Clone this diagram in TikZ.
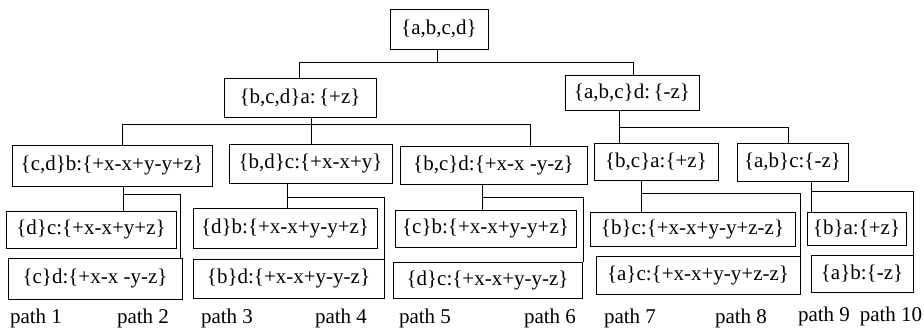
\documentclass[tikz,border=0pt]{standalone}
\usepackage{fontspec}
\setmainfont{Liberation Serif}
\begin{document}
\begin{tikzpicture}[x=1pt,y=-1pt,
  every node/.style={font=\fontsize{21pt}{24pt}\selectfont},
  box/.style={draw, line width=0.8pt, inner sep=0pt},
  conn/.style={line width=0.8pt},
  lbl/.style={anchor=base, inner sep=0pt}]
\useasboundingbox (0,0) rectangle (924,331);
% level 0 / 1
\node[box, minimum width=98pt, minimum height=40pt] (root) at (439,29) {\{a,b,c,d\}};
\node[box, minimum width=152pt, minimum height=39pt] (l1a) at (300,97.5) {\{b,c,d\}a:\,\{+z\}};
\node[box, minimum width=134pt, minimum height=35pt] (l1b) at (632,92.5) {\{a,b,c\}d:\,\{-z\}};
% level 2
\node[box, minimum width=200pt, minimum height=41pt] (l2a) at (112,165.5) {\{c,d\}b:\{+x-x+y-y+z\}};
\node[box, minimum width=163pt, minimum height=39pt] (l2b) at (310.5,163.5) {\{b,d\}c:\{+x-x+y\}};
\node[box, minimum width=187pt, minimum height=38pt] (l2c) at (493.5,165) {\{b,c\}d:\{+x-x -y-z\}};
\node[box, minimum width=124pt, minimum height=37pt] (l2d) at (656,161.5) {\{b,c\}a:\{+z\}};
\node[box, minimum width=111pt, minimum height=38pt] (l2e) at (792.5,162) {\{a,b\}c:\{-z\}};
% level 3
\node[box, minimum width=170pt, minimum height=37pt] (p1) at (91,229.5) {\{d\}c:\{+x-x+y+z\}};
\node[box, minimum width=174pt, minimum height=41pt] (p2) at (95,278.5) {\{c\}d:\{+x-x -y-z\}};
\node[box, minimum width=184pt, minimum height=40pt] (p3) at (285,228) {\{d\}b:\{+x-x+y-y+z\}};
\node[box, minimum width=191pt, minimum height=39pt] (p4) at (288.5,278.5) {\{b\}d:\{+x-x+y-y-z\}};
\node[box, minimum width=181pt, minimum height=37pt] (p5) at (485.5,228.5) {\{c\}b:\{+x-x+y-y+z\}};
\node[box, minimum width=189pt, minimum height=36pt] (p6) at (487.5,280) {\{d\}c:\{+x-x+y-y-z\}};
\node[box, minimum width=205pt, minimum height=34pt] (p7) at (692.5,229) {\{b\}c:\{+x-x+y-y+z-z\}};
\node[box, minimum width=204pt, minimum height=38pt] (p8) at (698,275) {\{a\}c:\{+x-x+y-y+z-z\}};
\node[box, minimum width=99pt, minimum height=33pt] (p9) at (856.5,228.5) {\{b\}a:\{+z\}};
\node[box, minimum width=102pt, minimum height=37pt] (p10) at (862,273.5) {\{a\}b:\{-z\}};
% junction coordinates
\coordinate (k0) at (437,62);
\coordinate (k0a) at (299,62);
\coordinate (k0b) at (633,62);
\coordinate (k1) at (311,124);
\coordinate (k1a) at (122,124);
\coordinate (k1c) at (530,124);
\coordinate (k2) at (619,127);
\coordinate (k2e) at (788,127);
\coordinate (k3) at (123,194);
\coordinate (k3b) at (180,194);
\coordinate (k4) at (287,197);
\coordinate (k4b) at (384,197);
\coordinate (k5) at (482,197);
\coordinate (k5b) at (583,197);
\coordinate (k6) at (641,193);
\coordinate (k6b) at (800,193);
\coordinate (k7) at (811,191);
\coordinate (k7b) at (913,191);
% connectors
\draw[conn] (k0 |- root.south) -- (k0);
\draw[conn] (k0a |- l1a.north) -- (k0a) -- (k0b) -- (k0b |- l1b.north);
\draw[conn] (k1 |- l1a.south) -- (k1 |- l2b.north);
\draw[conn] (k1a |- l2a.north) -- (k1a) -- (k1c) -- (k1c |- l2c.north);
\draw[conn] (k2 |- l1b.south) -- (k2 |- l2d.north);
\draw[conn] (k2) -- (k2e) -- (k2e |- l2e.north);
\draw[conn] (k3 |- l2a.south) -- (k3 |- p1.north);
\draw[conn] (k3) -- (k3b) -- (k3b |- p2.north);
\draw[conn] (k4 |- l2b.south) -- (k4 |- p3.north);
\draw[conn] (k4) -- (k4b) -- (k4b |- p4.north);
\draw[conn] (k5 |- l2c.south) -- (k5 |- p5.north);
\draw[conn] (k5) -- (k5b) -- (k5b |- p6.north);
\draw[conn] (k6 |- l2d.south) -- (k6 |- p7.north);
\draw[conn] (k6) -- (k6b) -- (k6b |- p8.north);
\draw[conn] (k7 |- l2e.south) -- (k7 |- p9.north);
\draw[conn] (k7) -- (k7b) -- (k7b |- p10.north);
% path labels
\node[lbl] (t1) at (36,323) {path 1};
\node[lbl] (t2) at (143,323) {path 2};
\node[lbl] (t3) at (227,323) {path 3};
\node[lbl] (t4) at (341,323) {path 4};
\node[lbl] (t5) at (425,323) {path 5};
\node[lbl] (t6) at (550,323) {path 6};
\node[lbl] (t7) at (630,323) {path 7};
\node[lbl] (t8) at (741,323) {path 8};
\node[lbl] (t9) at (824,321) {path 9};
\node[lbl] (t10) at (891,321) {path 10};
\end{tikzpicture}
\end{document}
